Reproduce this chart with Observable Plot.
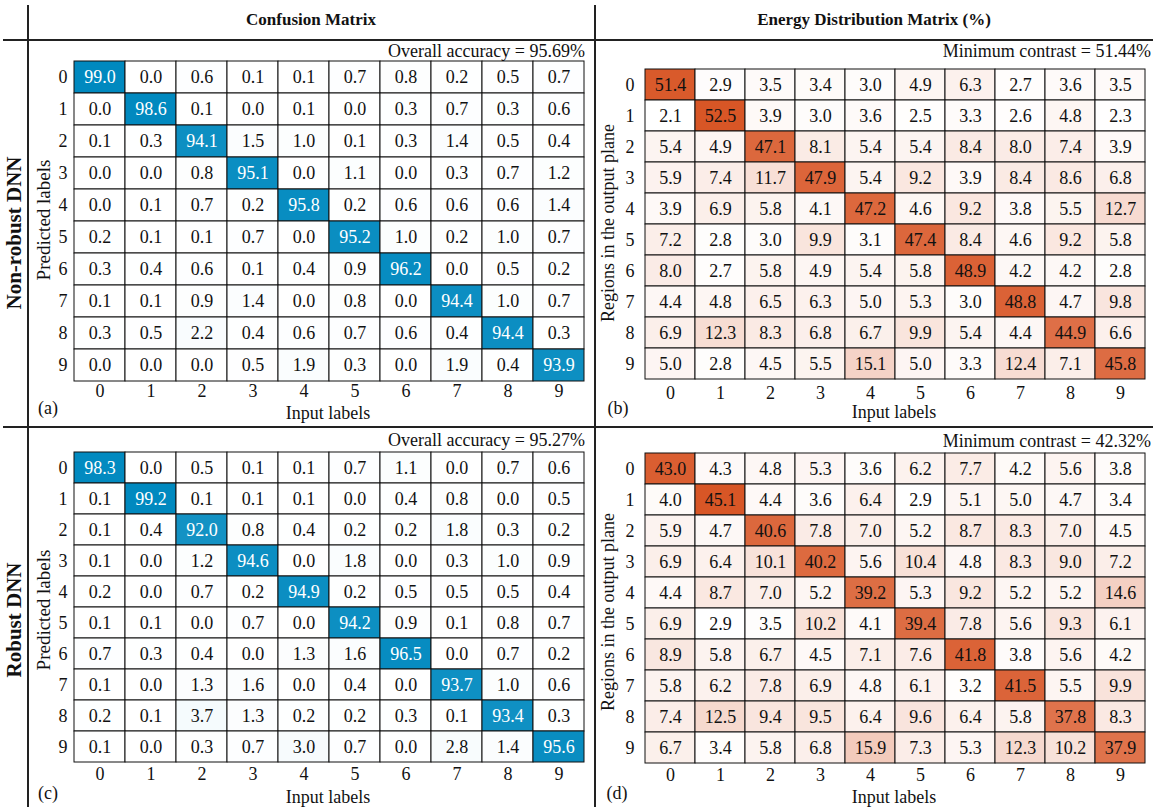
<!DOCTYPE html>
<html>
<head>
<meta charset="utf-8">
<script src="https://cdn.jsdelivr.net/npm/d3@7"></script>
<script src="https://cdn.jsdelivr.net/npm/@observablehq/plot@0.6"></script>
<style>
  html, body { margin: 0; padding: 0; background: #fff; }
  #fig { position: relative; width: 1153px; height: 807px; overflow: hidden;
         font-family: "Liberation Serif", "Times New Roman", Times, serif; color: #111; }
  .lbl { position: absolute; white-space: nowrap; font-size: 18px; line-height: 1; }
  .rule { position: absolute; background: #222; }
  .panel { position: absolute; }
</style>
</head>
<body>
<div id="fig"></div>
<script>
// ---------- data ----------
const digits = ["0","1","2","3","4","5","6","7","8","9"];

// (a) Non-robust DNN, confusion matrix (rows: predicted, cols: input)
const confNonRobust = [
  [99.0, 0.0, 0.6, 0.1, 0.1, 0.7, 0.8, 0.2, 0.5, 0.7],
  [0.0, 98.6, 0.1, 0.0, 0.1, 0.0, 0.3, 0.7, 0.3, 0.6],
  [0.1, 0.3, 94.1, 1.5, 1.0, 0.1, 0.3, 1.4, 0.5, 0.4],
  [0.0, 0.0, 0.8, 95.1, 0.0, 1.1, 0.0, 0.3, 0.7, 1.2],
  [0.0, 0.1, 0.7, 0.2, 95.8, 0.2, 0.6, 0.6, 0.6, 1.4],
  [0.2, 0.1, 0.1, 0.7, 0.0, 95.2, 1.0, 0.2, 1.0, 0.7],
  [0.3, 0.4, 0.6, 0.1, 0.4, 0.9, 96.2, 0.0, 0.5, 0.2],
  [0.1, 0.1, 0.9, 1.4, 0.0, 0.8, 0.0, 94.4, 1.0, 0.7],
  [0.3, 0.5, 2.2, 0.4, 0.6, 0.7, 0.6, 0.4, 94.4, 0.3],
  [0.0, 0.0, 0.0, 0.5, 1.9, 0.3, 0.0, 1.9, 0.4, 93.9]
];
// (b) Non-robust DNN, energy distribution matrix (%)
const energyNonRobust = [
  [51.4, 2.9, 3.5, 3.4, 3.0, 4.9, 6.3, 2.7, 3.6, 3.5],
  [2.1, 52.5, 3.9, 3.0, 3.6, 2.5, 3.3, 2.6, 4.8, 2.3],
  [5.4, 4.9, 47.1, 8.1, 5.4, 5.4, 8.4, 8.0, 7.4, 3.9],
  [5.9, 7.4, 11.7, 47.9, 5.4, 9.2, 3.9, 8.4, 8.6, 6.8],
  [3.9, 6.9, 5.8, 4.1, 47.2, 4.6, 9.2, 3.8, 5.5, 12.7],
  [7.2, 2.8, 3.0, 9.9, 3.1, 47.4, 8.4, 4.6, 9.2, 5.8],
  [8.0, 2.7, 5.8, 4.9, 5.4, 5.8, 48.9, 4.2, 4.2, 2.8],
  [4.4, 4.8, 6.5, 6.3, 5.0, 5.3, 3.0, 48.8, 4.7, 9.8],
  [6.9, 12.3, 8.3, 6.8, 6.7, 9.9, 5.4, 4.4, 44.9, 6.6],
  [5.0, 2.8, 4.5, 5.5, 15.1, 5.0, 3.3, 12.4, 7.1, 45.8]
];
// (c) Robust DNN, confusion matrix
const confRobust = [
  [98.3, 0.0, 0.5, 0.1, 0.1, 0.7, 1.1, 0.0, 0.7, 0.6],
  [0.1, 99.2, 0.1, 0.1, 0.1, 0.0, 0.4, 0.8, 0.0, 0.5],
  [0.1, 0.4, 92.0, 0.8, 0.4, 0.2, 0.2, 1.8, 0.3, 0.2],
  [0.1, 0.0, 1.2, 94.6, 0.0, 1.8, 0.0, 0.3, 1.0, 0.9],
  [0.2, 0.0, 0.7, 0.2, 94.9, 0.2, 0.5, 0.5, 0.5, 0.4],
  [0.1, 0.1, 0.0, 0.7, 0.0, 94.2, 0.9, 0.1, 0.8, 0.7],
  [0.7, 0.3, 0.4, 0.0, 1.3, 1.6, 96.5, 0.0, 0.7, 0.2],
  [0.1, 0.0, 1.3, 1.6, 0.0, 0.4, 0.0, 93.7, 1.0, 0.6],
  [0.2, 0.1, 3.7, 1.3, 0.2, 0.2, 0.3, 0.1, 93.4, 0.3],
  [0.1, 0.0, 0.3, 0.7, 3.0, 0.7, 0.0, 2.8, 1.4, 95.6]
];
// (d) Robust DNN, energy distribution matrix (%)
const energyRobust = [
  [43.0, 4.3, 4.8, 5.3, 3.6, 6.2, 7.7, 4.2, 5.6, 3.8],
  [4.0, 45.1, 4.4, 3.6, 6.4, 2.9, 5.1, 5.0, 4.7, 3.4],
  [5.9, 4.7, 40.6, 7.8, 7.0, 5.2, 8.7, 8.3, 7.0, 4.5],
  [6.9, 6.4, 10.1, 40.2, 5.6, 10.4, 4.8, 8.3, 9.0, 7.2],
  [4.4, 8.7, 7.0, 5.2, 39.2, 5.3, 9.2, 5.2, 5.2, 14.6],
  [6.9, 2.9, 3.5, 10.2, 4.1, 39.4, 7.8, 5.6, 9.3, 6.1],
  [8.9, 5.8, 6.7, 4.5, 7.1, 7.6, 41.8, 3.8, 5.6, 4.2],
  [5.8, 6.2, 7.8, 6.9, 4.8, 6.1, 3.2, 41.5, 5.5, 9.9],
  [7.4, 12.5, 9.4, 9.5, 6.4, 9.6, 6.4, 5.8, 37.8, 8.3],
  [6.7, 3.4, 5.8, 6.8, 15.9, 7.3, 5.3, 12.3, 10.2, 37.9]
];

const headers = ["Confusion Matrix", "Energy Distribution Matrix (%)"];
const rowNames = ["Non-robust DNN", "Robust DNN"];
const summaries = ["Overall accuracy = 95.69%", "Minimum contrast = 51.44%",
                   "Overall accuracy = 95.27%", "Minimum contrast = 42.32%"];
const panelTags = ["(a)", "(b)", "(c)", "(d)"];

// ---------- drawing ----------
const FONT = '"Liberation Serif", "Times New Roman", Times, serif';
const fig = document.getElementById("fig");

function addLabel(text, x, y, opts = {}) {
  const d = document.createElement("div");
  d.className = "lbl";
  d.textContent = text;
  d.style.left = x + "px";
  d.style.top = y + "px";
  if (opts.bold) d.style.fontWeight = "bold";
  if (opts.size) d.style.fontSize = opts.size + "px";
  const tx = opts.anchor === "end" ? "-100%" : opts.anchor === "start" ? "0" : "-50%";
  d.style.transform = opts.rotate
    ? `translate(-50%, -50%) rotate(${opts.rotate}deg)`
    : `translate(${tx}, -50%)`;
  fig.appendChild(d);
}
function addRule(x, y, w, h) {
  const d = document.createElement("div");
  d.className = "rule";
  Object.assign(d.style, {left: x + "px", top: y + "px", width: w + "px", height: h + "px"});
  fig.appendChild(d);
}

function heat(matrix, cfg) {
  const cells = matrix.flatMap((row, i) => row.map((v, j) => ({pred: digits[i], input: digits[j], v})));
  const vals = cells.map(d => d.v);
  const domain = cfg.kind === "conf" ? [0, d3.max(vals)] : [d3.min(vals), d3.max(vals)];
  const plot = Plot.plot({
    width: cfg.w, height: cfg.h,
    marginTop: cfg.mt, marginBottom: cfg.mb, marginLeft: cfg.ml, marginRight: cfg.mr,
    style: {fontFamily: FONT, fontSize: "18px", background: "transparent", color: "#111"},
    x: {type: "band", domain: digits, padding: 0, label: null},
    y: {type: "band", domain: digits, padding: 0, label: null},
    color: {type: "linear", domain, range: ["#ffffff", cfg.color], interpolate: "rgb"},
    marks: [
      Plot.cell(cells, {x: "input", y: "pred", fill: "v", stroke: "#111", strokeWidth: 1, inset: 0}),
      Plot.text(cells, {x: "input", y: "pred", text: d => d.v.toFixed(1), fontSize: 18,
        fill: d => (cfg.kind === "conf" && d.v > 50) ? "#ffffff" : "#111"}),
      Plot.axisX({anchor: "bottom", tickSize: 0, tickPadding: 3, label: null, fontSize: 18}),
      Plot.axisY({anchor: "left", tickSize: 0, tickPadding: 6, label: null, fontSize: 18})
    ]
  });
  const holder = document.createElement("div");
  holder.className = "panel";
  holder.style.left = cfg.left + "px";
  holder.style.top = cfg.top + "px";
  holder.appendChild(plot);
  fig.appendChild(holder);
}

const BLUE = "#0089bf", ORANGE = "#d85626";

heat(confNonRobust,   {kind: "conf",   color: BLUE,   left: 28,  top: 40,  w: 567, h: 387, mt: 21, mb: 46, ml: 45, mr: 11});
heat(energyNonRobust, {kind: "energy", color: ORANGE, left: 595, top: 40,  w: 558, h: 387, mt: 24, mb: 44, ml: 45, mr: 4});
heat(confRobust,      {kind: "conf",   color: BLUE,   left: 28,  top: 427, w: 567, h: 380, mt: 22, mb: 43, ml: 45, mr: 11});
heat(energyRobust,    {kind: "energy", color: ORANGE, left: 595, top: 427, w: 558, h: 380, mt: 24, mb: 42, ml: 45, mr: 4});

// table rules
addRule(27, 5, 2, 802);
addRule(594, 5, 2, 802);
addRule(3, 39, 1150, 2);
addRule(3, 426, 1150, 2);

// headers
addLabel(headers[0], 311, 19, {bold: true, size: 17});
addLabel(headers[1], 874, 19, {bold: true, size: 17});
addLabel(rowNames[0], 14, 233, {bold: true, rotate: -90, size: 21});
addLabel(rowNames[1], 14, 620, {bold: true, rotate: -90, size: 21});

// summaries
addLabel(summaries[0], 585, 51, {anchor: "end"});
addLabel(summaries[1], 1151, 51, {anchor: "end"});
addLabel(summaries[2], 585, 440, {anchor: "end"});
addLabel(summaries[3], 1151, 441, {anchor: "end"});

// axis titles
addLabel("Input labels", 328, 413);
addLabel("Input labels", 894, 412);
addLabel("Input labels", 328, 797);
addLabel("Input labels", 894, 797);
addLabel("Predicted labels", 43, 220, {rotate: -90, size: 19});
addLabel("Predicted labels", 43, 610, {rotate: -90, size: 19});
addLabel("Regions in the output plane", 608, 223, {rotate: -90});
addLabel("Regions in the output plane", 608, 612, {rotate: -90});

// panel tags
addLabel(panelTags[0], 48, 408);
addLabel(panelTags[1], 618, 408);
addLabel(panelTags[2], 48, 793);
addLabel(panelTags[3], 617, 793);
</script>
</body>
</html>
